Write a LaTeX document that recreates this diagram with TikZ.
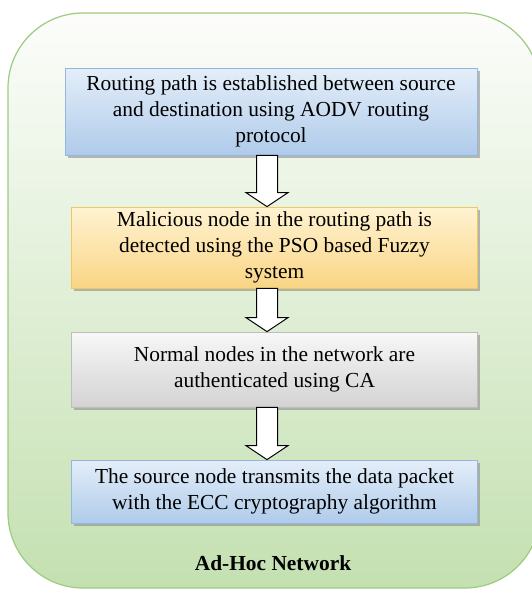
\documentclass[tikz,border=0pt]{standalone}
\usepackage{fontspec}
\setmainfont{Liberation Serif}
\usetikzlibrary{calc,shadows}

\definecolor{frameline}{HTML}{9DCB80}
\definecolor{frametop}{HTML}{FCFDFB}
\definecolor{framebot}{HTML}{C4E0B1}
\definecolor{bluetop}{HTML}{E4EEF9}
\definecolor{bluebot}{HTML}{AFCBEA}
\definecolor{blueline}{HTML}{95B6DE}
\definecolor{yeltop}{HTML}{FFF3D2}
\definecolor{yelbot}{HTML}{F9D584}
\definecolor{yelline}{HTML}{EFC763}
\definecolor{greytop}{HTML}{F7F7F7}
\definecolor{greybot}{HTML}{D3D3D3}
\definecolor{greyline}{HTML}{BDBDBD}

\tikzset{
  frame/.style={draw=frameline, line width=1.2pt, rounded corners=75pt,
    top color=frametop, bottom color=framebot},
  stepbox/.style={align=center, inner sep=0pt, line width=0.8pt,
    font=\fontsize{21.4}{26}\selectfont,
    drop shadow={shadow xshift=2.5pt, shadow yshift=-2.5pt,
      fill=black!45, opacity=0.6}},
  bluebox/.style={stepbox, draw=blueline, top color=bluetop, bottom color=bluebot},
  yelbox/.style={stepbox, draw=yelline, top color=yeltop, bottom color=yelbot},
  greybox/.style={stepbox, draw=greyline, top color=greytop, bottom color=greybot},
  blockarr/.style={draw=black, fill=white, line width=1pt, line join=miter},
  title/.style={font=\fontsize{21.4}{26}\selectfont\bfseries}
}

% hollow block arrow running straight down from one box to the next
\newcommand{\blockarrow}[2]{%
  \draw[blockarr]
    ($(ax|-#1.south)+(-10.5,0)$) -- ($(ax|-#1.south)+(10.5,0)$)
    -- ($(ax|-#2.north)+(10.5,-14)$) -- ($(ax|-#2.north)+(21,-14)$)
    -- (ax|-#2.north)
    -- ($(ax|-#2.north)+(-21,-14)$) -- ($(ax|-#2.north)+(-10.5,-14)$)
    -- cycle;}

\begin{document}
\begin{tikzpicture}[x=1pt, y=-1pt]
  \useasboundingbox (0,0) rectangle (532,590);
  \begin{scope}
    \clip (0,0) rectangle (532,590);
    \path[frame] (8,13) rectangle (540,588);
  \end{scope}

  \coordinate (ax) at (267,0);

  \node[bluebox, minimum width=412pt, minimum height=87pt] (b1) at (271,111.5)
    {Routing path is established between source\\
     and destination using AODV routing\\ protocol};
  \node[yelbox, minimum width=406pt, minimum height=81pt] (b2) at (274.5,247.5)
    {Malicious node in the routing path is\\
     detected using the PSO based Fuzzy\\ system};
  \node[greybox, minimum width=406pt, minimum height=75pt] (b3) at (274.5,369.5)
    {Normal nodes in the network are\\ authenticated using CA};
  \node[bluebox, minimum width=406pt, minimum height=63pt] (b4) at (274.5,491.5)
    {The source node transmits the data packet\\
     with the ECC cryptography algorithm};

  \blockarrow{b1}{b2}
  \blockarrow{b2}{b3}
  \blockarrow{b3}{b4}

  \node[title] (net) at (273,563) {Ad-Hoc Network};
\end{tikzpicture}
\end{document}
